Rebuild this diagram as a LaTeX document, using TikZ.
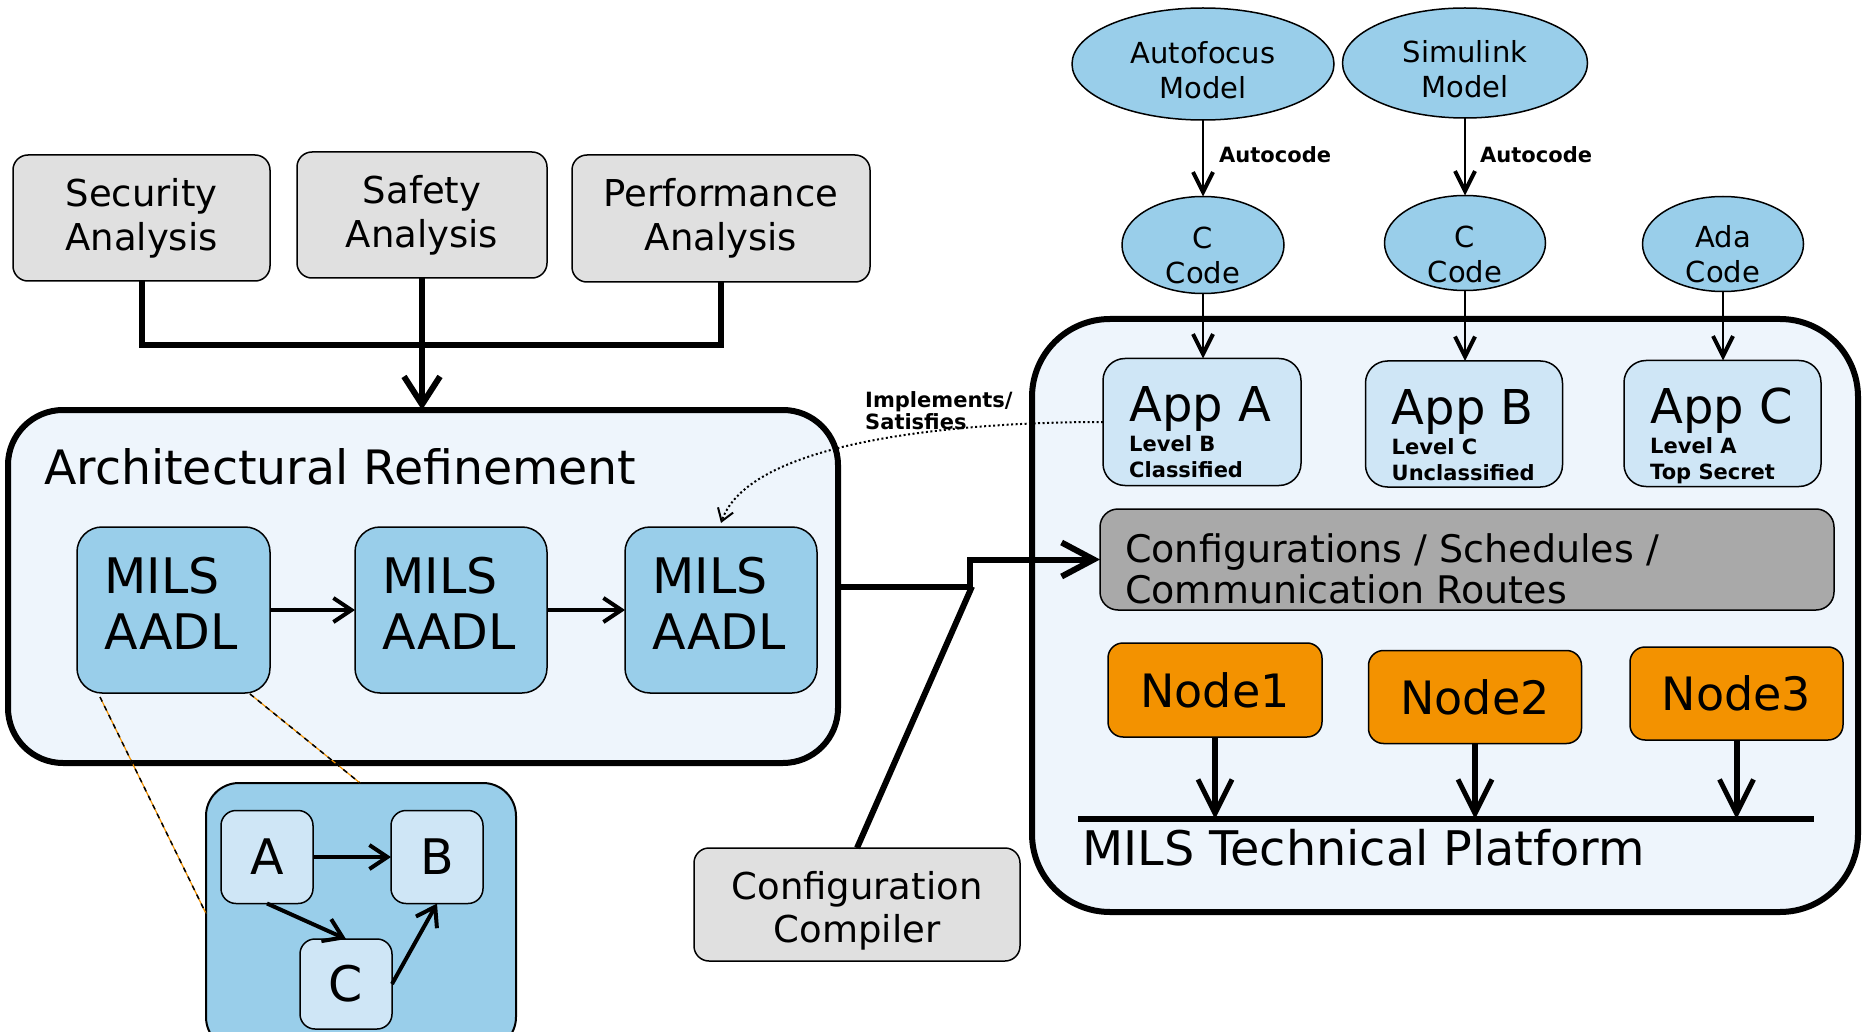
\documentclass[tikz,border=0pt]{standalone}
\usepackage{fontspec}
\setmainfont{DejaVu Sans}
\usetikzlibrary{arrows.meta,shapes.geometric,calc}
\definecolor{grayb}{HTML}{E0E0E0}
\definecolor{bigfill}{HTML}{EEF5FC}
\definecolor{skyb}{HTML}{99CEEA}
\definecolor{lightb}{HTML}{CFE6F6}
\definecolor{cfggray}{HTML}{A9A9A9}
\definecolor{orangeb}{HTML}{F39200}
\newcommand\myfs[2]{\fontsize{#1}{#2}\selectfont}
\begin{document}
\begin{tikzpicture}[x=1pt,y=-1pt,
  box/.style={draw=black, line width=1.5pt, rounded corners=15pt, inner sep=0pt, outer sep=0pt},
  anabox/.style={box, fill=grayb, align=center, font={\myfs{37}{44}}},
  bigbox/.style={draw=black, line width=6pt, fill=bigfill, inner sep=0pt, outer sep=0pt},
  aadlbox/.style={box, fill=skyb, rounded corners=25pt},
  aadltext/.style={align=left, inner sep=0pt, font={\myfs{49}{56}}},
  letterbox/.style={box, fill=lightb, font={\myfs{49}{56}}},
  appbox/.style={box, fill=lightb, rounded corners=22pt},
  apptitle/.style={anchor=base west, inner sep=0pt, font={\myfs{48}{48}}},
  applevel/.style={anchor=base west, inner sep=0pt, font={\myfs{21}{21}\bfseries}},
  hwbox/.style={box, fill=orangeb, font={\myfs{46}{46}}},
  ell/.style={ellipse, draw=black, line width=1.5pt, fill=skyb, inner sep=0pt, outer sep=0pt},
  elltext/.style={align=center, inner sep=0pt, font={\myfs{29}{35}}},
  edgelbl/.style={anchor=base west, inner sep=0pt, font={\myfs{21}{22}\bfseries}},
  thickarrow/.style={line width=6pt, -{Straight Barb[length=28pt,width=36pt,line width=6pt]}},
  midarrow/.style={line width=4pt, -{Straight Barb[length=18pt,width=24pt,line width=4pt]}},
  thinarrow/.style={line width=2pt, -{Straight Barb[length=20pt,width=20pt,line width=4pt]}},
  platarrow/.style={line width=6pt, -{Straight Barb[length=34pt,width=34pt,line width=5pt]}},
]
\useasboundingbox (0,0) rectangle (1864,1032);

% analysis boxes
\node[anabox, minimum width=257pt, minimum height=126pt] (sec) at (141.5,218) {Security\\Analysis};
\node[anabox, minimum width=250pt, minimum height=126pt] (saf) at (422,215) {Safety\\Analysis};
\node[anabox, minimum width=298pt, minimum height=127pt] (perf) at (721,218.5) {Performance\\Analysis};

% architectural refinement box
\node[bigbox, rounded corners=55pt, minimum width=830pt, minimum height=353pt] (arch) at (423,586.5) {};
\node[anchor=base west, inner sep=0pt, font={\myfs{47.4}{50}}] (archlbl) at (44,484) {Architectural Refinement};

\node[aadlbox, minimum width=193pt, minimum height=166pt] (m1) at (173.5,610) {};
\node[aadltext] (m1t) at (171,603) {MILS\\AADL};
\node[aadlbox, minimum width=192pt, minimum height=166pt] (m2) at (451,610) {};
\node[aadltext] (m2t) at (449,603) {MILS\\AADL};
\node[aadlbox, minimum width=192pt, minimum height=166pt] (m3) at (721,610) {};
\node[aadltext] (m3t) at (719,603) {MILS\\AADL};

% zoomed sub-model
\node[box, fill=skyb, line width=2pt, rounded corners=33pt, minimum width=310pt, minimum height=267pt] (sub) at (361,916.5) {};
\node[letterbox, minimum width=92pt, minimum height=93pt] (la) at (267,857) {A};
\node[letterbox, minimum width=92pt, minimum height=93pt] (lb) at (437,857) {B};
\node[letterbox, minimum width=92pt, minimum height=90pt] (lc) at (346,984) {C};

% right platform box
\node[bigbox, rounded corners=78pt, minimum width=826pt, minimum height=593pt] (plat) at (1445,615.5) {};

% ellipses
\node[ell, minimum width=262pt, minimum height=112pt] (af) at (1203,64) {};
\node[elltext] (aft) at (1203,70) {Autofocus\\Model};
\node[ell, minimum width=245pt, minimum height=110pt] (sl) at (1465,63) {};
\node[elltext] (slt) at (1465,69) {Simulink\\Model};
\node[ell, minimum width=162pt, minimum height=97pt] (c1) at (1203,245) {};
\node[elltext] (c1t) at (1203,255) {C\\Code};
\node[ell, minimum width=161pt, minimum height=95pt] (c2) at (1465,243) {};
\node[elltext] (c2t) at (1465,254) {C\\Code};
\node[ell, minimum width=161pt, minimum height=95pt] (ada) at (1723,244) {};
\node[elltext] (adat) at (1723,254) {Ada\\Code};

% apps
\node[appbox, minimum width=198pt, minimum height=127pt] (appA) at (1202,422) {};
\node[apptitle] (appAt) at ($(appA.north west)+(26,63)$) {App A};
\node[applevel] (appAl) at ($(appA.north west)+(26,93)$) {Level B};
\node[applevel] (appAc) at ($(appA.north west)+(26,119)$) {Classified};
\node[appbox, minimum width=197pt, minimum height=126pt] (appB) at (1464,424) {};
\node[apptitle] (appBt) at ($(appB.north west)+(26,63)$) {App B};
\node[applevel] (appBl) at ($(appB.north west)+(26,93)$) {Level C};
\node[applevel] (appBc) at ($(appB.north west)+(26,119)$) {Unclassified};
\node[appbox, minimum width=197pt, minimum height=126pt] (appC) at (1722.5,423.5) {};
\node[apptitle] (appCt) at ($(appC.north west)+(26,63)$) {App C};
\node[applevel] (appCl) at ($(appC.north west)+(26,93)$) {Level A};
\node[applevel] (appCc) at ($(appC.north west)+(26,119)$) {Top Secret};

% configurations
\node[box, fill=cfggray, rounded corners=18pt, minimum width=734pt, minimum height=101pt] (cfg) at (1467,559.5) {};
\node[anchor=base west, inner sep=0pt, font={\myfs{38}{41}}] (cfg1) at (1125,562) {Configurations / Schedules /};
\node[anchor=base west, inner sep=0pt, font={\myfs{38}{41}}] (cfg2) at (1125,603) {Communication Routes};

% hardware nodes
\node[hwbox, minimum width=214pt, minimum height=94pt] (n1) at (1215,690) {Node1};
\node[hwbox, minimum width=213pt, minimum height=93pt] (n2) at (1475,697) {Node2};
\node[hwbox, minimum width=213pt, minimum height=93pt] (n3) at (1736.5,693.5) {Node3};
\coordinate (pl1) at (1078,819);
\coordinate (pl2) at (1814,819);
\draw[line width=6pt] (pl1) -- (pl2);
\node[anchor=base west, inner sep=0pt, font={\myfs{47.7}{50}}] (platlbl) at (1082,865) {MILS Technical Platform};

% configuration compiler
\node[box, fill=grayb, minimum width=326pt, minimum height=113pt] (ccomp) at (857,904.5) {};
\node[align=center, inner sep=0pt, font={\myfs{37}{43}}] (ccompt) at (857,911) {Configuration\\Compiler};

% ---- connectors ----
\coordinate (junc) at (422,345);
\draw[line width=6pt, line join=miter] (sec.south) -- (sec.south |- junc) -- (perf.south |- junc) -- (perf.south);
\draw[thickarrow] (saf.south) -- (saf.south |- arch.north);

\draw[midarrow] (m1.east) -- (m2.west);
\draw[midarrow] (m2.east) -- (m3.west);

\draw[midarrow] (la.east) -- (lb.west);
\draw[midarrow] (la.south) -- (lc.north);
\draw[midarrow] (lc.east) -- (lb.south);

% zoom indication lines
\draw[orangeb, line width=1.2pt] ($(m1.south west)+(23,4)$) -- ($(sub.west)+(0,-3)$);
\draw[black, line width=1.5pt, dash pattern=on 5pt off 5pt] ($(m1.south west)+(23,4)$) -- ($(sub.west)+(0,-3)$);
\draw[orangeb, line width=1.2pt] ($(m1.south west)+(173,1)$) -- ($(sub.north west)+(154,0)$);
\draw[black, line width=1.5pt, dash pattern=on 5pt off 5pt] ($(m1.south west)+(173,1)$) -- ($(sub.north west)+(154,0)$);

% autocode
\draw[thinarrow] (af.south) -- (c1.north);
\draw[thinarrow] (sl.south) -- (c2.north);
\node[edgelbl] (ac1) at (1219,163) {Autocode};
\node[edgelbl] (ac2) at (1480,163) {Autocode};
\draw[thinarrow] (c1.south) -- (c1.south |- appA.north);
\draw[thinarrow] (c2.south) -- (c2.south |- appB.north);
\draw[thinarrow] (ada.south) -- (ada.south |- appC.north);

% implements / satisfies
\draw[line width=2pt, dash pattern=on 2pt off 2.5pt, -{Straight Barb[length=12pt,width=16pt,line width=2pt,sep=0pt]}] (appA.west) .. controls (960,422) and (750,440) .. ($(m3.north)+(0,-4)$);
\node[edgelbl] (imp1) at (865,407) {Implements/};
\node[edgelbl] (imp2) at (865,429) {Satisfies};

% architecture to configuration
\draw[line width=6pt, line join=miter, -{Straight Barb[length=32pt,width=34pt,line width=6pt]}] (arch.east) -- ++(132,0) coordinate (kink) -- (kink |- cfg.west) -- (cfg.west);
\draw[line width=6pt] (ccomp.north) -- ($(kink)+(2,0)$);

% hardware to platform
\draw[platarrow] (n1.south) -- (n1.south |- pl1);
\draw[platarrow] (n2.south) -- (n2.south |- pl1);
\draw[platarrow] (n3.south) -- (n3.south |- pl1);
\end{tikzpicture}
\end{document}
